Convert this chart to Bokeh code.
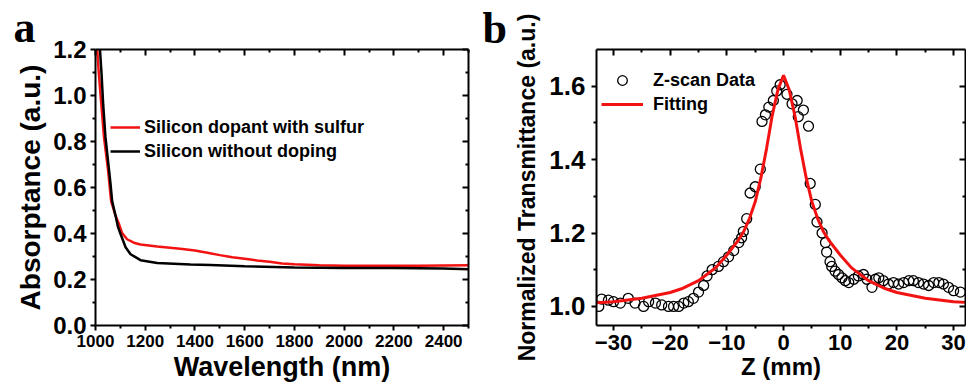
from bokeh.plotting import figure
from bokeh.layouts import row
from bokeh.models import (Range1d, LinearAxis, Legend, LegendItem, Label,
                          FixedTicker, CustomJSTickFormatter, PrintfTickFormatter)
from bokeh.embed import file_html
from bokeh.resources import INLINE

# ---------------- data: panel a ----------------
wavelength_sulfur = [1000, 1007, 1013, 1034, 1050, 1063, 1080, 1094, 1107, 1127, 1154, 1181,
                     1248, 1300, 1350, 1400, 1450, 1500, 1550, 1600, 1650, 1700, 1750, 1800,
                     1900, 2000, 2100, 2200, 2300, 2400, 2500]
absorptance_sulfur = [1.35, 1.20, 1.10, 0.82, 0.68, 0.54, 0.48, 0.443, 0.402, 0.375, 0.36, 0.352,
                      0.343, 0.338, 0.333, 0.326, 0.316, 0.306, 0.297, 0.29, 0.283, 0.277, 0.27,
                      0.266, 0.262, 0.26, 0.26, 0.26, 0.26, 0.261, 0.262]

wavelength_undoped = [1012, 1018, 1024, 1031, 1040, 1054, 1060, 1067, 1080, 1090, 1100, 1121,
                      1141, 1181, 1248, 1382, 1462, 1600, 1800, 2000, 2200, 2400, 2500]
absorptance_undoped = [1.30, 1.20, 1.10, 0.96, 0.82, 0.68, 0.62, 0.54, 0.48, 0.43, 0.40, 0.34,
                       0.31, 0.284, 0.272, 0.265, 0.263, 0.258, 0.252, 0.25, 0.25, 0.248, 0.245]

a_xticks = [1000, 1200, 1400, 1600, 1800, 2000, 2200, 2400]
a_xminor = [1100, 1300, 1500, 1700, 1900, 2100, 2300, 2500]
a_yticks = [0.0, 0.2, 0.4, 0.6, 0.8, 1.0, 1.2]
a_yminor = [0.1, 0.3, 0.5, 0.7, 0.9, 1.1]

# ---------------- data: panel b ----------------
z_data = [-32.6, -32.1, -30.9, -30.0, -28.8, -27.4, -26.2, -24.7, -23.8, -22.6, -21.5, -20.3,
          -19.4, -18.5, -17.6, -16.8, -15.9, -15.0, -14.1, -13.5, -12.6, -11.5, -10.6, -9.7,
          -8.8, -7.9, -7.4, -7.1, -6.5, -5.9, -5.0, -4.1, -3.8, -3.2, -2.6, -1.8, -1.2, -0.6,
          0.6, 1.5, 2.4, 2.6, 3.5, 4.4, 4.7, 5.6, 5.9, 6.8, 7.4, 7.6, 8.2, 8.5, 9.1, 9.7,
          10.3, 10.9, 11.5, 12.4, 13.2, 14.1, 14.7, 15.6, 16.2, 16.8, 17.6, 18.5, 19.4, 20.3,
          21.2, 22.1, 22.9, 23.8, 24.7, 25.6, 26.5, 27.4, 28.2, 29.1, 30.0, 31.2]
t_data = [1.000, 1.020, 1.017, 1.013, 1.009, 1.022, 1.009, 1.000, 1.013, 1.009, 1.004, 1.000,
          1.000, 1.000, 1.009, 1.013, 1.022, 1.039, 1.057, 1.083, 1.100, 1.109, 1.122, 1.135,
          1.152, 1.174, 1.187, 1.204, 1.239, 1.309, 1.326, 1.374, 1.504, 1.522, 1.543, 1.561,
          1.587, 1.604, 1.578, 1.552, 1.561, 1.517, 1.535, 1.491, 1.335, 1.278, 1.230, 1.200,
          1.174, 1.148, 1.122, 1.109, 1.096, 1.087, 1.078, 1.070, 1.065, 1.074, 1.083, 1.087,
          1.074, 1.052, 1.074, 1.078, 1.070, 1.061, 1.065, 1.061, 1.065, 1.070, 1.070, 1.065,
          1.061, 1.057, 1.065, 1.065, 1.061, 1.052, 1.043, 1.039]

z_fit = [-33, -30, -25, -20, -18, -15, -12, -10, -8, -7, -6, -5, -4, -3, -2, -1, 0,
         1, 2, 3, 4, 5, 6, 7, 8, 10, 12, 15, 18, 20, 25, 30, 32]
t_fit = [1.010, 1.013, 1.022, 1.038, 1.048, 1.070, 1.105, 1.140, 1.180, 1.205, 1.240, 1.285,
         1.350, 1.430, 1.520, 1.590, 1.630, 1.590, 1.520, 1.430, 1.350, 1.285, 1.240, 1.205,
         1.180, 1.140, 1.105, 1.070, 1.048, 1.038, 1.022, 1.013, 1.011]

b_xticks = [-30, -20, -10, 0, 10, 20, 30]
b_xminor = [-25, -15, -5, 5, 15, 25]
b_yticks = [1.0, 1.2, 1.4, 1.6]
b_yminor = [1.1, 1.3, 1.5]

FONT = "Liberation Sans"
AXW = 2
H = 385
RED = "#f21212"


def style_axis(ax, ticks, minor, label_size, show_labels=True, tick_in=False, fmt=None):
    ax.ticker = FixedTicker(ticks=ticks, minor_ticks=minor)
    ax.axis_line_width = AXW
    ax.axis_line_color = "black"
    ax.major_tick_line_width = AXW
    ax.minor_tick_line_width = AXW
    ax.major_tick_line_color = "black"
    ax.minor_tick_line_color = "black"
    if tick_in:
        ax.major_tick_in, ax.major_tick_out = 6, 0
        ax.minor_tick_in, ax.minor_tick_out = 3, 0
    else:
        ax.major_tick_in, ax.major_tick_out = 0, 5
        ax.minor_tick_in, ax.minor_tick_out = 0, 3
    ax.major_label_text_font = FONT
    ax.major_label_text_font_style = "bold"
    ax.major_label_text_color = "black"
    ax.major_label_text_font_size = label_size
    ax.axis_label_text_font = FONT
    ax.axis_label_text_font_style = "bold"
    ax.axis_label_text_color = "black"
    if fmt is not None:
        ax.formatter = PrintfTickFormatter(format=fmt)
    if not show_labels:
        ax.formatter = CustomJSTickFormatter(code="return ''")
        ax.major_label_standoff = 0


# ---------------- panel a ----------------
pa = figure(width=480, height=H, x_range=Range1d(1000, 2500), y_range=Range1d(0, 1.2),
            output_backend="svg", toolbar_location=None,
            min_border_left=95, min_border_right=12, min_border_top=40, min_border_bottom=59)
pa.outline_line_color = None
pa.grid.visible = False
pa.background_fill_color = "white"
pa.border_fill_color = "white"

r_red = pa.line(wavelength_sulfur, absorptance_sulfur, line_color=RED, line_width=2.5)
r_blk = pa.line(wavelength_undoped, absorptance_undoped, line_color="black", line_width=2.5)

style_axis(pa.xaxis[0], a_xticks, a_xminor, "17px")
pa.xaxis[0].axis_label = "Wavelength (nm)"
pa.xaxis[0].axis_label_text_font_size = "27px"
pa.xaxis[0].major_label_standoff = 4
pa.xaxis[0].axis_label_standoff = 2
style_axis(pa.yaxis[0], a_yticks, a_yminor, "24px", fmt="%.1f")
pa.yaxis[0].axis_label = "Absorptance (a.u.)"
pa.yaxis[0].axis_label_text_font_size = "28px"
pa.yaxis[0].major_label_standoff = 4
pa.yaxis[0].axis_label_standoff = 4

ta = LinearAxis()
style_axis(ta, a_xticks, a_xminor, "10px", show_labels=False, tick_in=True)
pa.add_layout(ta, "above")
ra = LinearAxis()
style_axis(ra, a_yticks, a_yminor, "10px", show_labels=False, tick_in=True)
pa.add_layout(ra, "right")

leg_a = Legend(items=[LegendItem(label="Silicon dopant with sulfur", renderers=[r_red]),
                      LegendItem(label="Silicon without doping", renderers=[r_blk])],
               location=(15, 162), padding=0, spacing=0, margin=0,
               glyph_width=30, glyph_height=24, label_height=24, label_standoff=4,
               label_text_font=FONT, label_text_font_style="bold", label_text_font_size="18px",
               label_text_color="black",
               border_line_color=None, background_fill_alpha=0)
pa.add_layout(leg_a)

pa.add_layout(Label(x=13, y=27, x_units="canvas", y_units="canvas", text="a",
                    text_font="Liberation Serif", text_font_style="bold",
                    text_font_size="44px", text_color="black", text_baseline="alphabetic"),
              "above")

# ---------------- panel b ----------------
pb = figure(width=486, height=H, x_range=Range1d(-33.0, 32.1), y_range=Range1d(0.948, 1.70),
            output_backend="svg", toolbar_location=None,
            min_border_left=116, min_border_right=1, min_border_top=37, min_border_bottom=60)
pb.outline_line_color = None
pb.grid.visible = False
pb.background_fill_color = "white"
pb.border_fill_color = "white"

r_pts = pb.scatter(z_data, t_data, marker="circle", size=10, fill_color=None,
                   line_color="black", line_width=1.3)
r_fit = pb.line(z_fit, t_fit, line_color=RED, line_width=3)

style_axis(pb.xaxis[0], b_xticks, b_xminor, "22px")
pb.xaxis[0].axis_label = "Z (mm)"
pb.xaxis[0].axis_label_text_font_size = "24px"
pb.xaxis[0].major_label_standoff = 4
pb.xaxis[0].axis_label_standoff = 0
style_axis(pb.yaxis[0], b_yticks, b_yminor, "26px", fmt="%.1f")
pb.yaxis[0].axis_label = "Normalized Transmittance (a.u.)"
pb.yaxis[0].axis_label_text_font_size = "23px"
pb.yaxis[0].major_label_standoff = 6
pb.yaxis[0].axis_label_standoff = 6

tb = LinearAxis()
style_axis(tb, b_xticks, b_xminor, "10px", show_labels=False, tick_in=True)
pb.add_layout(tb, "above")
rb = LinearAxis()
style_axis(rb, b_yticks, b_yminor, "10px", show_labels=False, tick_in=True)
pb.add_layout(rb, "right")

leg_b = Legend(items=[LegendItem(label="Z-scan Data", renderers=[r_pts]),
                      LegendItem(label="Fitting", renderers=[r_fit])],
               location=(5, 209), padding=0, spacing=0, margin=0,
               glyph_width=42, glyph_height=24, label_height=24, label_standoff=10,
               label_text_font=FONT, label_text_font_style="bold", label_text_font_size="18px",
               label_text_color="black",
               border_line_color=None, background_fill_alpha=0)
pb.add_layout(leg_b)

pb.add_layout(Label(x=2, y=28, x_units="canvas", y_units="canvas", text="b",
                    text_font="Liberation Serif", text_font_style="bold",
                    text_font_size="44px", text_color="black", text_baseline="alphabetic"),
              "above")

layout = row(pa, pb, spacing=0)
open("out.html", "w").write(file_html(layout, INLINE))
